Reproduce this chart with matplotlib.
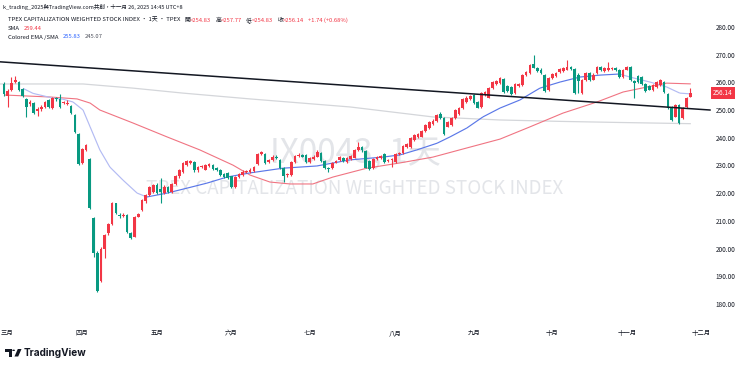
import matplotlib
matplotlib.use('Agg')
import matplotlib.pyplot as plt
from matplotlib.patches import Rectangle, Polygon, Circle
from matplotlib.collections import LineCollection
from matplotlib import transforms
import numpy as np

plt.rcParams['font.family'] = ['Noto Sans CJK TC', 'DejaVu Sans']

# ---------------- data ----------------
opens = [
    259.4, 255.0, 257.2, 260.2, 260.0, 257.5, 254.0, 252.2, 252.6, 249.6,
    250.4, 251.0, 253.5, 250.8, 254.2, 253.9, 252.4, 252.3, 251.4, 248.2,
    241.3, 230.8, 235.6, 232.2, 211.0, 198.3, 188.4, 200.0, 205.5, 208.8,
    216.3, 212.1, 211.8, 212.0, 205.7, 204.3, 211.5, 213.9, 217.0, 219.3,
    220.5, 223.0, 221.5, 220.0, 222.2, 220.4, 223.2, 226.0, 227.8, 230.1,
    231.0, 231.2, 228.2, 229.4, 228.5, 229.8, 230.2, 228.9, 228.3, 227.0,
    227.1, 226.0, 222.3, 225.8, 226.5, 227.6, 227.8, 228.0, 230.4, 234.0,
    234.0, 231.2, 232.0, 233.2, 232.0, 229.0, 226.5, 226.5, 231.3, 233.3,
    233.6, 233.8, 231.3, 232.2, 233.2, 234.4, 231.6, 229.2, 229.0, 231.0,
    232.0, 232.8, 231.3, 232.3, 232.8, 235.6, 236.6, 235.2, 231.5, 229.0,
    232.3, 232.5, 234.0, 231.6, 231.8, 231.3, 234.0, 234.4, 236.8, 236.5,
    239.2, 240.2, 240.4, 242.4, 243.4, 245.0, 246.0, 248.6, 247.0, 244.0,
    244.6, 247.2, 248.5, 250.6, 253.0, 254.0, 255.4, 252.8, 251.2, 255.5,
    254.5, 258.0, 259.5, 259.7, 261.2, 258.8, 258.4, 256.0, 258.6, 259.0,
    262.6, 263.2, 266.5, 265.0, 264.6, 262.6, 257.2, 261.4, 262.2, 263.6,
    264.0, 264.6, 265.6, 264.8, 262.8, 256.0, 260.8, 263.2, 261.0, 263.2,
    265.6, 264.2, 264.5, 264.8, 265.2, 264.4, 262.0, 264.6, 265.6, 260.5,
    262.4, 262.0, 259.3, 258.8, 257.2, 258.3, 259.0, 260.0, 255.7, 251.2,
    247.6, 251.8, 247.0, 251.2, 254.83,
]
highs = [
    260.2, 257.5, 262.0, 262.3, 260.6, 257.9, 254.5, 253.5, 253.0, 251.0,
    251.8, 253.4, 254.0, 254.6, 254.8, 255.8, 253.3, 253.6, 251.8, 248.5,
    241.6, 236.2, 237.8, 232.5, 211.3, 199.0, 200.4, 205.3, 209.2, 216.8,
    216.6, 212.8, 213.0, 212.4, 206.0, 211.8, 212.8, 218.0, 219.8, 222.7,
    223.4, 223.5, 225.5, 222.8, 222.6, 223.7, 226.4, 228.7, 231.2, 232.0,
    232.0, 231.6, 229.9, 230.3, 230.6, 230.8, 230.6, 229.3, 228.6, 227.4,
    227.5, 226.3, 226.2, 227.4, 228.2, 228.4, 228.9, 229.9, 234.4, 235.3,
    234.4, 232.3, 233.6, 233.6, 232.4, 229.3, 227.2, 231.5, 233.8, 234.3,
    234.0, 234.2, 232.9, 233.6, 235.4, 234.8, 231.9, 229.6, 231.4, 232.0,
    233.4, 233.2, 233.0, 233.9, 236.0, 238.3, 237.0, 235.5, 231.9, 232.8,
    233.3, 233.8, 234.4, 232.3, 232.7, 234.4, 235.0, 237.4, 238.0, 240.2,
    241.4, 241.6, 242.8, 245.0, 246.2, 246.6, 248.6, 249.4, 247.3, 246.2,
    247.4, 250.4, 251.2, 254.4, 254.9, 255.4, 255.8, 253.2, 256.4, 256.9,
    258.2, 260.4, 260.7, 261.8, 261.6, 259.2, 258.8, 259.7, 259.9, 263.0,
    264.2, 266.6, 270.0, 265.4, 265.0, 263.0, 261.8, 263.4, 263.6, 265.2,
    265.4, 268.0, 266.0, 265.2, 263.2, 261.2, 263.6, 263.6, 263.2, 266.0,
    266.0, 265.4, 267.5, 265.7, 265.6, 264.8, 264.8, 266.0, 266.0, 261.0,
    262.8, 262.4, 259.7, 259.2, 259.3, 260.6, 261.2, 260.4, 256.1, 251.6,
    252.2, 252.2, 251.0, 254.6, 257.77,
]
lows = [
    255.0, 251.2, 256.8, 259.8, 256.8, 254.6, 247.5, 251.5, 248.5, 247.8,
    249.8, 250.6, 250.6, 250.5, 253.3, 250.7, 252.0, 251.8, 248.4, 241.8,
    230.0, 230.5, 235.2, 214.2, 196.8, 184.2, 188.0, 196.5, 205.0, 208.4,
    212.6, 211.0, 211.4, 205.6, 203.3, 204.0, 211.2, 213.5, 216.6, 219.0,
    220.0, 219.6, 216.5, 219.7, 220.0, 220.0, 222.8, 225.6, 227.4, 229.8,
    230.6, 227.8, 227.8, 229.0, 228.2, 229.4, 228.5, 227.9, 226.3, 225.5,
    225.0, 221.8, 222.0, 225.4, 226.2, 227.2, 227.4, 227.7, 230.0, 233.6,
    230.4, 230.8, 231.6, 232.4, 228.6, 224.0, 225.8, 226.2, 231.0, 232.9,
    232.9, 231.0, 231.0, 231.9, 232.9, 231.3, 228.7, 227.5, 228.7, 230.7,
    231.7, 231.3, 231.0, 232.0, 232.5, 235.3, 235.0, 228.9, 228.3, 228.7,
    232.0, 232.2, 231.0, 231.2, 229.5, 231.0, 233.7, 234.1, 236.4, 236.2,
    238.9, 239.9, 240.1, 242.1, 243.1, 244.7, 245.7, 246.7, 240.8, 243.7,
    244.3, 246.9, 248.2, 250.3, 252.7, 253.7, 252.1, 250.6, 250.9, 255.2,
    254.2, 257.7, 259.2, 259.4, 256.1, 256.6, 255.4, 255.7, 258.3, 258.7,
    262.3, 262.9, 265.0, 263.7, 262.9, 256.6, 256.9, 261.1, 261.9, 263.3,
    263.7, 264.3, 264.5, 255.8, 256.0, 255.7, 260.5, 260.5, 260.7, 262.9,
    264.1, 263.9, 264.2, 264.5, 264.2, 261.7, 261.7, 264.3, 260.5, 254.5,
    259.7, 259.0, 256.6, 257.1, 256.9, 258.0, 258.7, 256.3, 250.3, 246.1,
    247.3, 244.8, 246.7, 250.9, 254.83,
]
closes = [
    255.8, 257.0, 259.9, 260.8, 257.2, 255.0, 251.2, 252.8, 249.0, 250.3,
    251.2, 253.0, 251.0, 254.2, 253.8, 251.0, 252.8, 252.7, 248.8, 242.2,
    230.4, 235.8, 237.3, 214.5, 198.3, 184.6, 200.0, 204.9, 208.8, 216.3,
    213.0, 211.7, 212.2, 206.0, 203.7, 211.5, 212.3, 217.5, 219.3, 222.3,
    222.9, 220.0, 220.5, 222.3, 220.5, 223.3, 226.0, 228.3, 230.8, 231.6,
    231.5, 228.2, 229.5, 229.8, 230.3, 230.4, 228.8, 228.2, 226.6, 225.8,
    225.3, 222.3, 225.8, 227.0, 227.8, 228.0, 228.5, 229.5, 234.0, 234.7,
    230.8, 231.8, 233.2, 232.5, 229.0, 226.3, 226.8, 231.1, 233.4, 233.8,
    233.2, 231.3, 232.5, 233.2, 235.0, 231.6, 229.0, 228.8, 231.0, 231.6,
    233.0, 231.6, 232.6, 233.5, 235.6, 236.8, 235.4, 229.2, 228.6, 232.4,
    232.9, 233.4, 231.3, 231.9, 232.3, 234.0, 234.6, 237.0, 237.6, 239.8,
    241.0, 241.2, 242.4, 244.6, 245.8, 246.2, 248.2, 247.0, 241.2, 245.8,
    247.0, 250.0, 250.8, 254.0, 254.5, 255.0, 252.4, 250.9, 256.0, 256.5,
    257.8, 260.0, 260.3, 261.4, 256.4, 256.9, 255.7, 259.3, 259.5, 262.6,
    263.8, 266.2, 265.3, 264.0, 263.2, 256.9, 261.4, 263.0, 263.2, 264.8,
    265.0, 265.6, 264.8, 256.2, 260.6, 260.8, 263.2, 260.8, 262.8, 265.6,
    264.4, 265.0, 265.2, 265.3, 264.5, 262.0, 264.4, 265.6, 260.8, 259.8,
    260.0, 259.3, 256.9, 257.4, 258.9, 260.2, 260.8, 256.6, 250.6, 246.4,
    251.8, 245.2, 250.6, 254.2, 256.14,
]

month_labels = ['三月', '四月', '五月', '六月', '七月', '八月', '九月', '十月', '十一月', '十二月']
month_idx = [0, 21, 41, 61, 82, 105, 126, 147, 167, 187]
price_ticks = [180, 190, 200, 210, 220, 230, 240, 250, 260, 270, 280]

# moving averages (bar index, value)
ema_idx = [5.1, 7.8, 13.1, 15.8, 18.5, 21.2, 23.1, 25.7, 28.4, 31.9, 35.7, 38.3,
           43.7, 49.1, 54.4, 59.8, 66, 74.8, 83.9, 92.8, 101.6, 106.2, 110.7,
           116.1, 119.6, 124.1, 128.4, 133, 138.3, 143.7, 149.1, 154.4, 159.8,
           165.1, 167.8, 173.2, 177.7, 181.2, 184]
ema_val = [257.8, 256.0, 254.3, 253.9, 252.9, 250.0, 243.9, 235.6, 229.4, 224.7,
           220.0, 218.6, 220.0, 221.8, 223.6, 225.8, 227.3, 229.0, 229.8, 232.0,
           233.0, 233.8, 235.6, 238.0, 240.3, 243.5, 247.5, 250.7, 253.6, 257.9,
           260.1, 261.9, 262.6, 263.0, 261.9, 260.1, 258.3, 256.1, 255.83]
sma_idx = [0.3, 12.3, 19.6, 23.1, 25.7, 34.6, 43.7, 52.5, 61.4, 66, 71.3, 76.7,
           82.8, 88.2, 97.3, 106.2, 115, 124.1, 133, 141, 149.9, 159, 166,
           172.4, 177.7, 184]
sma_val = [255.4, 254.7, 254.0, 252.5, 250.0, 245.3, 240.3, 235.6, 230.1, 226.5,
           224.0, 223.3, 223.3, 225.8, 229.0, 230.9, 233.0, 236.3, 239.5, 243.9,
           248.9, 252.9, 256.5, 258.3, 259.7, 259.44]
sma2_idx = [-1.1, 21.2, 34.6, 48, 66, 92.8, 115, 133, 149, 165, 184]
sma2_val = [259.4, 259.4, 257.9, 256.1, 254.0, 251.1, 247.5, 246.4, 245.9, 245.5, 245.07]

trend_idx = [-1.1, 189.3]
trend_val = [267.4, 250.0]

last_price = 256.14

# ---------------- figure ----------------
W, H = 740, 367
fig = plt.figure(figsize=(W / 100, H / 100), dpi=100)
fig.patch.set_facecolor('white')

top_px, bot_px, right_px = 14, 322, 710
ax = fig.add_axes([0, 1 - bot_px / H, right_px / W, (bot_px - top_px) / H])
ax.set_facecolor('white')
ax.set_xlim(-1.07, 189.3)
ax.set_ylim(173.47, 284.66)

UP, DN = '#f23645', '#089981'
n = len(closes)
x = np.arange(n)
o = np.array(opens); c = np.array(closes); hi = np.array(highs); lo = np.array(lows)
cols = np.where(c >= o, UP, DN)
bottoms = np.minimum(o, c)
heights = np.maximum(np.abs(c - o), 0.25)
ax.vlines(x, lo, hi, colors=cols, linewidth=0.8, zorder=4)
ax.bar(x, heights, bottom=bottoms, width=0.72, color=cols, linewidth=0, zorder=5)

# gray long SMA
ax.plot(sma2_idx, sma2_val, color='#d4d6da', linewidth=0.9, zorder=3)
# red SMA
ax.plot(sma_idx, sma_val, color='#f07482', linewidth=0.8, zorder=3)
# colored EMA (blue when rising, lavender when falling)
pts = np.column_stack([ema_idx, ema_val])
segs = np.stack([pts[:-1], pts[1:]], axis=1)
rising = np.diff(ema_val) >= 0
seg_cols = ['#5b78e8' if r else '#b3bbf3' for r in rising]
ax.add_collection(LineCollection(segs, colors=seg_cols, linewidths=0.85, zorder=3))

# trend line
ax.plot(trend_idx, trend_val, color='#131722', linewidth=1.1, zorder=6, clip_on=False)

# watermark
ax.text(0.5, 0.548, 'IX0043, 1天', transform=ax.transAxes, ha='center', va='center',
        fontsize=24, color='#e3e5e9', zorder=1)
ax.text(0.5, 0.435, 'TPEX CAPITALIZATION WEIGHTED STOCK INDEX', transform=ax.transAxes,
        ha='center', va='center', fontsize=13.5, color='#e3e5e9', zorder=1)

# axes styling
for s in ax.spines.values():
    s.set_visible(False)
ax.yaxis.tick_right()
ax.set_yticks(price_ticks)
ax.set_yticklabels([f'{v:.2f}' for v in price_ticks])
ax.tick_params(axis='y', length=0, pad=4, labelsize=4.6, labelcolor='#131722')
ax.set_xticks(month_idx)
ax.set_xticklabels(month_labels)
ax.tick_params(axis='x', length=0, pad=5, labelsize=4.6, labelcolor='#131722')
for lab in ax.get_xticklabels() + ax.get_yticklabels():
    lab.set_clip_on(False)
# first month label sits at the left edge: keep it fully inside the picture
first_lab = ax.get_xticklabels()[0]
first_lab.set_horizontalalignment('left')
first_lab.set_transform(first_lab.get_transform() + transforms.ScaledTranslation(-3 / 100, 0, fig.dpi_scale_trans))

# last price label
tr = transforms.blended_transform_factory(ax.transAxes, ax.transData)
ax.text(1.0 + 3 / right_px, last_price, f'{last_price:.2f}', transform=tr, ha='left',
        va='center', fontsize=4.6, color='white', zorder=10, clip_on=False,
        bbox=dict(boxstyle='square,pad=0.35', fc=UP, ec='none'))

# ---------------- header text ----------------
renderer = fig.canvas.get_renderer()

def chain(x_px, y_px, parts, size):
    xx = x_px
    for s, col, gap in parts:
        t = fig.text(xx / W, 1 - y_px / H, s, color=col, fontsize=size, ha='left', va='center')
        bb = t.get_window_extent(renderer=renderer)
        xx += bb.width + gap

DK = '#131722'
fig.text(3 / W, 1 - 7 / H, 'k_trading_2025與TradingView.com共創，十一月 26, 2025 14:45 UTC+8',
         fontsize=4.0, color=DK, ha='left', va='center')
chain(8, 20, [
    ('TPEX CAPITALIZATION WEIGHTED STOCK INDEX · 1天 · TPEX', DK, 4),
    ('開', DK, 0), ('=254.83', UP, 4),
    ('高', DK, 0), ('=257.77', UP, 4),
    ('低', DK, 0), ('=254.83', UP, 4),
    ('收', DK, 0), ('=256.14', UP, 4),
    ('+1.74 (+0.68%)', UP, 0)], 4.25)
chain(8, 28.5, [('SMA', DK, 4), ('259.44', UP, 0)], 4.25)
chain(8, 37, [('Colored EMA /SMA', DK, 4), ('255.83', '#2962ff', 4), ('245.07', '#50535e', 0)], 4.25)

# ---------------- TradingView logo ----------------
def fx(px):
    return px / W

def fy(py):
    return 1 - py / H

logo = [
    Rectangle((fx(5), fy(351.5)), 7 / W, 2.6 / H, transform=fig.transFigure, fc=DK, ec='none'),
    Rectangle((fx(8.6), fy(356.5)), 3.4 / W, 7.6 / H, transform=fig.transFigure, fc=DK, ec='none'),
    Polygon([(fx(14.5), fy(356.5)), (fx(17.8), fy(349)), (fx(21.5), fy(349)), (fx(18.2), fy(356.5))],
            closed=True, transform=fig.transFigure, fc=DK, ec='none'),
]
for p in logo:
    fig.add_artist(p)
fig.add_artist(Circle((fx(13.6), fy(350.3)), 1.4 / W, transform=fig.transFigure, fc=DK, ec='none'))
fig.text(fx(24), fy(352.5), 'TradingView', fontsize=7.2, fontweight='bold', color=DK,
         ha='left', va='center', family=['Inter', 'DejaVu Sans'])

fig.savefig('out.png', dpi=100, facecolor='white')
